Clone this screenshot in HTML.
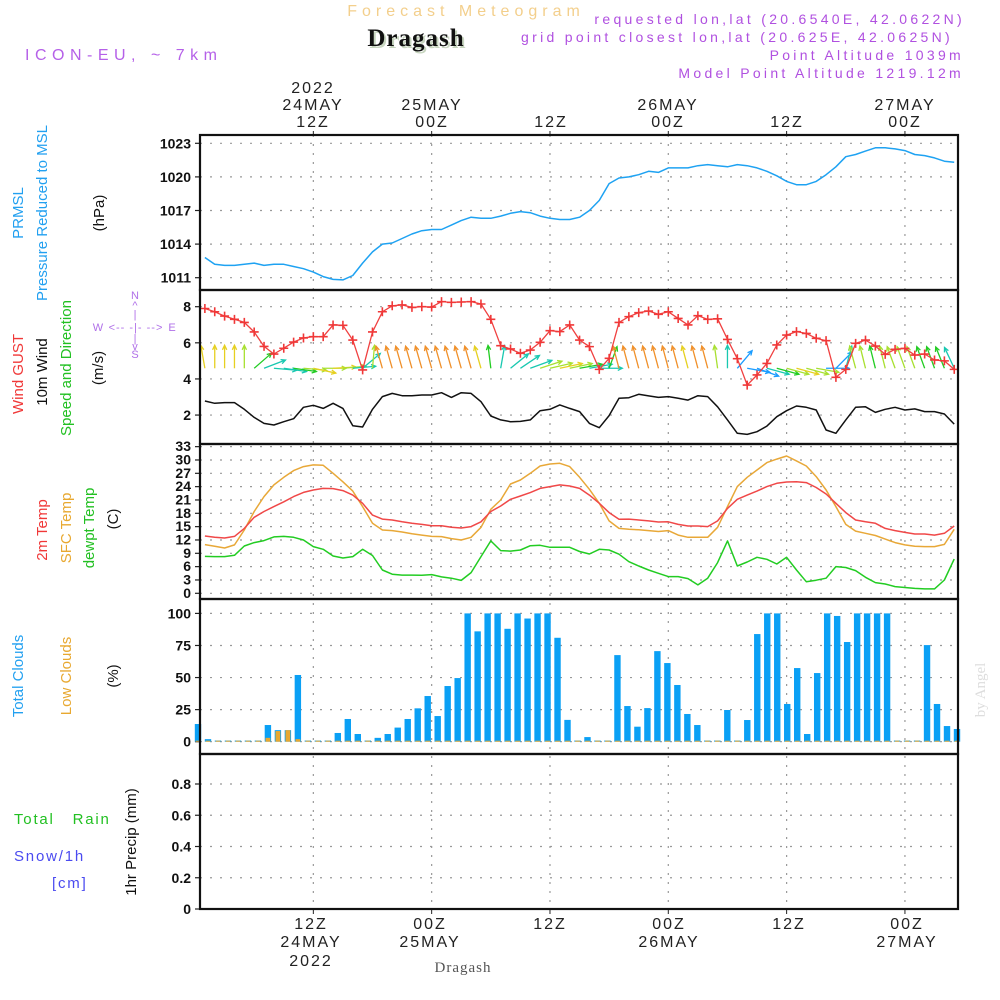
<!DOCTYPE html>
<html><head><meta charset="utf-8"><style>
html,body{margin:0;padding:0;background:#fff;}
svg{display:block;font-family:"Liberation Sans",sans-serif;}
.tk{font-size:14px;font-weight:bold;fill:#111;text-anchor:end;}
.tm{font-size:16px;fill:#222;text-anchor:middle;letter-spacing:2px;}
.vl{font-size:15px;text-anchor:middle;}
</style></head><body>
<svg id="chart" width="1000" height="1000" viewBox="0 0 1000 1000">
<text x="466" y="16" font-size="16" fill="#f3cf8c" text-anchor="middle" letter-spacing="5">Forecast Meteogram</text>
<text x="418" y="48" font-size="25" font-weight="bold" font-family="Liberation Serif,serif" fill="#c8d6c0" text-anchor="middle" letter-spacing="1">Dragash</text>
<text x="416" y="46" font-size="25" font-weight="bold" font-family="Liberation Serif,serif" fill="#111" text-anchor="middle" letter-spacing="1">Dragash</text>
<text x="25" y="60" font-size="16" fill="#b560e8" letter-spacing="5.5">ICON-EU, ~ 7km</text>
<g font-size="14" fill="#b050e0" text-anchor="end" letter-spacing="3.3">
<text x="965" y="24">requested lon,lat (20.6540E, 42.0622N)</text>
<text x="953" y="42">grid point closest lon,lat (20.625E, 42.0625N)</text>
<text x="964" y="60">Point Altitude 1039m</text>
<text x="964" y="78">Model Point Altitude 1219.12m</text>
</g>
<g id="toplabels">
<text class="tm" x="313" y="93">2022</text><text class="tm" x="313" y="110">24MAY</text><text class="tm" x="313" y="127">12Z</text>
<text class="tm" x="432" y="110">25MAY</text><text class="tm" x="432" y="127">00Z</text>
<text class="tm" x="551" y="127">12Z</text>
<text class="tm" x="668" y="110">26MAY</text><text class="tm" x="668" y="127">00Z</text>
<text class="tm" x="787" y="127">12Z</text>
<text class="tm" x="905" y="110">27MAY</text><text class="tm" x="905" y="127">00Z</text>
</g>
<g id="botlabels">
<text class="tm" x="311" y="929">12Z</text><text class="tm" x="311" y="947">24MAY</text><text class="tm" x="311" y="966">2022</text>
<text class="tm" x="430" y="929">00Z</text><text class="tm" x="430" y="947">25MAY</text>
<text class="tm" x="550" y="929">12Z</text>
<text class="tm" x="669" y="929">00Z</text><text class="tm" x="669" y="947">26MAY</text>
<text class="tm" x="789" y="929">12Z</text>
<text class="tm" x="907" y="929">00Z</text><text class="tm" x="907" y="947">27MAY</text>
</g>
<text x="463" y="972" font-size="15" font-family="Liberation Serif,serif" fill="#555" text-anchor="middle" letter-spacing="1">Dragash</text>
<text transform="translate(985,690) rotate(-90)" font-size="15" font-family="Liberation Serif,serif" fill="#ddd" text-anchor="middle">by Angel</text>
<g class="vl">
<text class="vl" transform="translate(23,213) rotate(-90)" fill="#22a0f0">PRMSL</text>
<text class="vl" transform="translate(47,213) rotate(-90)" fill="#22a0f0">Pressure Reduced to MSL</text>
<text class="vl" transform="translate(104,213) rotate(-90)" fill="#111">(hPa)</text>
</g>
<g>
<text class="vl" transform="translate(23,374) rotate(-90)" fill="#f03838">Wind GUST</text>
<text class="vl" transform="translate(47,372) rotate(-90)" fill="#111">10m Wind</text>
<text class="vl" transform="translate(71,368) rotate(-90)" fill="#22c022">Speed and Direction</text>
<text class="vl" transform="translate(103,368) rotate(-90)" fill="#111">(m/s)</text>
</g>
<g font-size="11" fill="#b070e8" text-anchor="middle">
<text x="135" y="299">N</text><text x="135" y="309">^</text><text x="135" y="318">|</text>
<text x="98" y="331">W</text><text x="136" y="331" letter-spacing="1">&lt;-- -|- --&gt;</text><text x="172" y="331">E</text>
<text x="135" y="342">|</text><text x="135" y="350">v</text><text x="135" y="358">S</text>
</g>
<g>
<text class="vl" transform="translate(47,530) rotate(-90)" fill="#f03838">2m Temp</text>
<text class="vl" transform="translate(71,528) rotate(-90)" fill="#e8a830">SFC Temp</text>
<text class="vl" transform="translate(94,528) rotate(-90)" fill="#22c022">dewpt Temp</text>
<text class="vl" transform="translate(118,519) rotate(-90)" fill="#111">(C)</text>
</g>
<g>
<text class="vl" transform="translate(23,676) rotate(-90)" fill="#22a0f0">Total Clouds</text>
<text class="vl" transform="translate(71,676) rotate(-90)" fill="#e8a830">Low Clouds</text>
<text class="vl" transform="translate(118,676) rotate(-90)" fill="#111">(%)</text>
</g>
<g>
<text class="vl" transform="translate(136,842) rotate(-90)" fill="#111">1hr Precip (mm)</text>
<text x="14" y="824" font-size="15" fill="#22c022" letter-spacing="1.8">Total&#160;&#160;&#160;Rain</text>
<text x="14" y="861" font-size="15" fill="#4a4af0" letter-spacing="1.8">Snow/1h</text>
<text x="52" y="888" font-size="15" fill="#4a4af0" letter-spacing="1.8">[cm]</text>
</g>
<g id="grid"></g>
<g id="marks"></g>
<g id="frames"></g>
</svg>
<script>
const majorHours=[12,24,36,48,60,72];
const pressure=[1012.8,1012.2,1012.1,1012.1,1012.2,1012.3,1012.1,1012.2,1012.2,1012.0,1011.8,1011.5,1011.1,1010.85,1010.8,1011.2,1012.3,1013.3,1014.0,1014.1,1014.5,1014.9,1015.2,1015.3,1015.3,1015.7,1016.1,1016.4,1016.3,1016.3,1016.5,1016.75,1016.9,1016.8,1016.5,1016.3,1016.2,1016.2,1016.4,1017.0,1017.9,1019.4,1019.9,1020.0,1020.2,1020.5,1020.4,1020.8,1020.8,1020.8,1021.0,1021.1,1021.0,1020.9,1021.1,1021.0,1020.8,1020.5,1020.1,1019.6,1019.3,1019.3,1019.6,1020.2,1020.9,1021.8,1022.0,1022.3,1022.6,1022.6,1022.5,1022.35,1022.0,1021.9,1021.7,1021.4,1021.3];
const gust=[7.9,7.72,7.48,7.3,7.13,6.6,5.8,5.38,5.7,6.04,6.27,6.34,6.34,6.99,6.97,6.15,4.5,6.6,7.72,8.05,8.1,7.96,8.0,7.98,8.28,8.24,8.26,8.28,8.15,7.3,5.84,5.66,5.42,5.6,6.03,6.67,6.62,6.99,6.15,5.79,4.53,5.14,7.13,7.45,7.67,7.76,7.58,7.72,7.35,6.99,7.5,7.3,7.33,6.19,5.12,3.66,4.22,4.86,5.88,6.43,6.62,6.52,6.25,6.12,4.09,4.53,5.97,6.15,5.82,5.36,5.64,5.69,5.32,5.38,5.05,5.0,4.53];
const wind10m=[2.78,2.65,2.69,2.69,2.32,1.87,1.54,1.45,1.63,1.8,2.43,2.54,2.37,2.65,2.37,1.41,1.34,2.32,3.02,3.2,3.07,3.07,3.11,3.11,3.24,2.98,3.24,3.2,2.74,1.95,1.73,1.63,1.65,1.73,2.24,2.32,2.56,2.37,2.19,1.54,1.3,1.97,2.93,2.96,3.15,3.06,2.98,3.02,2.93,2.83,3.07,3.02,2.46,1.73,0.99,0.93,1.08,1.39,1.91,2.24,2.5,2.43,2.28,1.17,0.99,1.73,2.43,2.46,2.15,2.32,2.43,2.28,2.34,2.19,2.19,2.06,1.5];
const windDir=[100,90,90,90,90,41,21,-5,-8,-8,-5,-12,0,3,5,5,40,85,106,106,106,106,106,106,106,106,106,106,106,97,80,39,34,20,18,13,12,12,10,10,0,70,105,105,105,105,105,105,105,105,105,105,98,90,50,-10,-20,-15,-15,-15,-15,-15,-10,0,45,75,105,104,104,104,110,110,110,110,110,112,115];
const temp2m=[12.9,12.6,12.45,12.8,14.6,17.1,18.4,19.5,20.6,21.75,22.7,23.25,23.6,23.55,23.1,22.1,20.25,17.6,16.7,16.5,16.1,15.75,15.5,15.2,15.2,14.85,14.7,15.0,16.1,18.4,19.65,21.15,21.9,22.65,23.6,24.0,24.4,24.15,23.6,22.1,20.25,18.15,16.65,16.7,16.5,16.3,16.05,16.1,15.5,15.15,15.15,15.0,16.3,19.1,21.15,22.1,23.0,24.0,24.75,25.05,25.1,24.9,23.8,22.35,20.25,18.15,16.5,16.1,15.75,14.6,14.1,13.7,13.35,13.35,13.1,13.5,15.15];
const tempSfc=[10.95,10.6,10.2,10.9,14.25,18.4,21.75,24.4,26.1,27.6,28.5,28.9,28.8,27.0,25.1,23.0,19.5,15.75,14.25,14.1,13.8,13.4,13.1,12.8,12.75,12.3,12.0,12.6,14.85,18.9,21.0,24.6,25.5,27.0,28.65,29.1,29.25,28.5,26.1,23.4,20.25,16.3,14.6,14.4,14.3,14.1,13.9,14.1,13.1,12.6,12.6,12.6,14.85,19.5,24.0,26.1,27.75,29.4,30.2,30.9,29.8,28.65,26.25,23.25,19.5,15.5,14.0,13.5,13.0,12.2,11.4,10.9,10.6,10.5,10.5,11.0,14.4];
const dewpt=[8.3,8.25,8.25,8.55,10.65,11.4,11.85,12.7,12.8,12.6,12.0,10.5,9.9,8.4,7.95,8.25,9.9,8.5,5.25,4.3,4.1,4.1,4.05,4.2,3.7,3.4,2.9,4.65,8.25,11.8,9.6,9.5,9.75,10.7,10.8,10.35,10.35,10.35,9.4,8.85,9.9,9.75,8.8,7.1,6.15,5.25,4.5,3.75,3.75,3.3,1.9,3.4,6.9,11.8,6.15,7.05,8.1,7.65,6.6,8.1,5.25,2.6,2.95,3.4,6.0,5.8,5.1,3.6,2.4,2.1,1.5,1.3,1.1,0.98,0.98,3.0,7.7];
const totalCloud=[13.8,2,0,0,0,0,0,13,9,9,52,0,0,0,6.8,17.7,6,0.5,3,6,11,17.7,26,35.6,20,43.4,49.6,100,86,100,100,88,100,96,100,100,81,17,0,3.6,0,0,67.5,27.8,11.7,26.2,70.6,61.3,44.2,21.6,13,0,0,24.7,0,16.9,83.9,100,100,29.4,57.4,6,53.5,100,98,77.7,100,100,100,100,0,0,0,75.3,29.4,12.2,9.9];
const lowCloud=[0,0,0,0,0,0,0,3,8.3,9,2,0,0,0,0,0,0,0,0,0,0,0,0,0,0,0,0,0,0,0,0,0,0,0,0,0,0,0,0,0,0,0,0,0,0,0,0,0,0,0,0,0,0,0,0,0,0,0,0,0,0,0,0,0,0,0,0,0,0,0,0,0,0,0,0,0,0];
const precip=[0,0,0,0,0,0,0,0,0,0,0,0,0,0,0,0,0,0,0,0,0,0,0,0,0,0,0,0,0,0,0,0,0,0,0,0,0,0,0,0,0,0,0,0,0,0,0,0,0,0,0,0,0,0,0,0,0,0,0,0,0,0,0,0,0,0,0,0,0,0,0,0,0,0,0,0,0];
const pressTicks=[1011,1014,1017,1020,1023];
const windTicks=[2,4,6,8];
const tempTicks=[0,3,6,9,12,15,18,21,24,27,30,33];
const cloudTicks=[0,25,50,75,100];
const precipTicks=[0,0.2,0.4,0.6,0.8];
const precipTickLabels=["0","0.2","0.4","0.6","0.8"];

const L=200,R=958;
const xh=h=>668.3+(h-48)*9.86;
const xi=i=>xh(i+1);
const xb=k=>198+k*(759/76);
const yP=p=>143.3+(1023-p)*11.2;
const yW=v=>306.7+(8-v)*18.06;
const yT=t=>593.3-t*4.444;
const yC=c=>741.7-c*1.283;
const yR=r=>909-r*156.25;
const panels=[[135,290],[290,444],[444,599],[599,754],[754,909]];

const NS='http://www.w3.org/2000/svg';
function mk(tag,attrs,parent){const e=document.createElementNS(NS,tag);for(const k in attrs)e.setAttribute(k,attrs[k]);parent.appendChild(e);return e;}
const grid=document.getElementById('grid'),marks=document.getElementById('marks'),frames=document.getElementById('frames');

majorHours.forEach(h=>{
  const x=xh(h);
  const g=mk('line',{x1:x,x2:x,y1:135,y2:909,stroke:'#999','stroke-width':1.2,'stroke-dasharray':'2,7'},grid);
  
  
  const t=mk('line',{x1:x,x2:x,y1:131,y2:135,stroke:'#222','stroke-width':1},grid);
  
  
  const t2=mk('line',{x1:x,x2:x,y1:909,y2:914,stroke:'#222','stroke-width':1},grid);
  
  
});
function hgrid(ticks,yf,labels,name,fs){
  ticks.forEach((v,j)=>{
    const y=yf(v);
    const g=mk('line',{x1:L,x2:R,y1:y,y2:y,stroke:'#999','stroke-width':1.2,'stroke-dasharray':'2,8'},grid);
    
    
    const t=mk('line',{x1:L-5,x2:L,y1:y,y2:y,stroke:'#222','stroke-width':1.2},grid);
    
    
    const tx=mk('text',{x:L-9,y:y+5,class:'tk'},grid);
    if(fs){tx.setAttribute('y',y+4.5);}
    tx.textContent=labels?labels[j]:String(v);
    
    
  });
}
hgrid(pressTicks,yP,null,'pressure');
hgrid(windTicks,yW,null,'wind');
hgrid(tempTicks,yT,null,'temperature',14);
hgrid(cloudTicks,yC,null,'cloud');
hgrid(precipTicks,yR,precipTickLabels,'precip');

function line(data,xf,yf,color,name,w){
  const d=data.map((v,i)=>(i?'L':'M')+xf(i).toFixed(1)+','+yf(v).toFixed(1)).join('');
  const p=mk('path',{d:d,fill:'none',stroke:color,'stroke-width':w||1.5,'stroke-linejoin':'round'},marks);
  
  
}
line(pressure,xi,yP,'#1ea2f2','pressure-line');
totalCloud.forEach((v,k)=>{
  const x=xb(k),h=Math.max(v*1.283,1.2);
  const r=mk('rect',{x:x-3.2,y:yC(0)-h,width:6.4,height:h,fill:'#0aa0f5'},marks);
  
  
});
lowCloud.forEach((v,k)=>{
  const x=xb(k),h=Math.max(v*1.283,1);
  const r=mk('rect',{x:x-2.4,y:yC(0)-h,width:4.8,height:h,fill:'#e8a830'},marks);
  
  
});
precip.forEach((v,k)=>{
  if(v<=0)return;
  const x=xb(k),h=v*156.25;
  const r=mk('rect',{x:x-3,y:yR(0)-h,width:6,height:h,fill:'#22c022'},marks);
  
  
});
const pb=mk('line',{x1:L,x2:R,y1:yR(0),y2:yR(0),stroke:'#111','stroke-width':2,'stroke-dasharray':'6,3'},marks);


line(tempSfc,xi,yT,'#e8a838','sfc-temp-line');
line(temp2m,xi,yT,'#f04848','temp-2m-line');
line(dewpt,xi,yT,'#22cc22','dewpoint-line');
function wcol(s){if(s<1.3)return '#1a9cff';if(s<1.8)return '#18c8b0';if(s<2.2)return '#22cc22';if(s<2.5)return '#a8e030';if(s<2.9)return '#e6d020';return '#f0902a';}
windDir.forEach((a,i)=>{
  const x0=xi(i),y0=yW(4.59),len=23,r=a*Math.PI/180;
  const x1=x0+len*Math.cos(r),y1=y0-len*Math.sin(r);
  const c=wcol(wind10m[i]);
  const g=mk('g',{stroke:c,'stroke-width':1.3,fill:'none'},marks);
  
  
  mk('line',{x1:x0,y1:y0,x2:x1,y2:y1},g);
  const hl=5,ha=0.45;
  mk('path',{d:`M${x1-hl*Math.cos(r-ha)},${y1+hl*Math.sin(r-ha)}L${x1},${y1}L${x1-hl*Math.cos(r+ha)},${y1+hl*Math.sin(r+ha)}`},g);
});
line(wind10m,xi,yW,'#111','wind-10m-line');
line(gust,xi,yW,'#f04040','wind-gust-line',1.3);
gust.forEach((v,i)=>{
  const x=xi(i),y=yW(v);
  const p=mk('path',{d:`M${x-4.5},${y}H${x+4.5}M${x},${y-4.5}V${y+4.5}`,stroke:'#f03838','stroke-width':1.6},marks);
  
  
});
panels.forEach((p,j)=>{
  const r=mk('rect',{x:L,y:p[0],width:R-L,height:p[1]-p[0],fill:'none',stroke:'#111','stroke-width':2.2},frames);
  
  
});
</script>
</body></html>
